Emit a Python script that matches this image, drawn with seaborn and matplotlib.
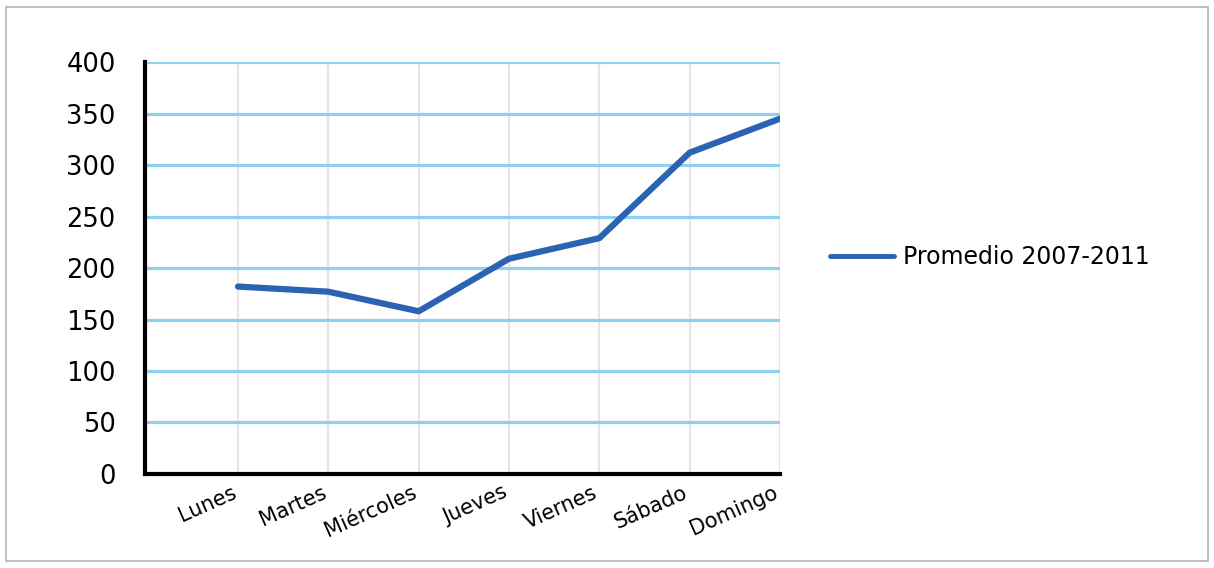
import pandas as pd
import seaborn as sns
import matplotlib.pyplot as plt
import matplotlib.transforms as mtransforms
from matplotlib.patches import Rectangle

# Datos
dias = ["Lunes", "Martes", "Miércoles", "Jueves", "Viernes", "Sábado", "Domingo"]
promedio = [182, 177, 158, 209, 229, 312, 345]
serie = "Promedio 2007-2011"

df = pd.DataFrame({"dia": dias, "valor": promedio})

sns.set_style("white")
plt.rcParams['font.family'] = ['DejaVu Sans']
plt.rcParams['text.color'] = 'black'
plt.rcParams['xtick.labelcolor'] = 'black'
plt.rcParams['ytick.labelcolor'] = 'black'

fig = plt.figure(figsize=(12.14, 5.68), dpi=100)
ax = fig.add_axes([0.1194, 0.1655, 0.5231, 0.7253])

sns.lineplot(data=df, x="dia", y="valor", ax=ax, color="#2b63b3",
             linewidth=4.5, label=serie, sort=False)

ax.set_ylim(0, 400)
ax.set_xlim(-1.03, 6)
ax.set_yticks(range(0, 401, 50))
ax.set_xlabel("")
ax.set_ylabel("")

# Rejilla
ax.grid(axis="y", color="#8fd0f0", linewidth=2.3)
ax.grid(axis="x", color="#e6e6e6", linewidth=1.5)
ax.set_axisbelow(True)

for s in ["top", "right"]:
    ax.spines[s].set_visible(False)
for s in ["left", "bottom"]:
    ax.spines[s].set_color("black")
    ax.spines[s].set_linewidth(3)
    ax.spines[s].set_zorder(5)

ax.tick_params(axis="y", length=8, width=2.3, color="#8fd0f0", labelsize=18.5, pad=13)
ax.tick_params(axis="x", length=0, labelsize=15, pad=6)
offset = mtransforms.ScaledTranslation(-7 / 100, 0, fig.dpi_scale_trans)
for t in ax.get_xticklabels():
    t.set_rotation(24)
    t.set_ha("right")
    t.set_rotation_mode("anchor")
    t.set_transform(t.get_transform() + offset)

ax.get_legend().remove()
h, l = ax.get_legend_handles_labels()
leg = fig.legend(h, l, loc="center left", bbox_to_anchor=(0.666, 0.547), frameon=False,
                 fontsize=17, handlelength=2.7, handletextpad=0.4)
for ln in leg.get_lines():
    ln.set_linewidth(3.5)

fig.patches.append(Rectangle((0.005, 0.012), 0.99, 0.975, transform=fig.transFigure,
                             fill=False, edgecolor="#b4b4b4", linewidth=1.2))

fig.savefig("out.png", dpi=100)
